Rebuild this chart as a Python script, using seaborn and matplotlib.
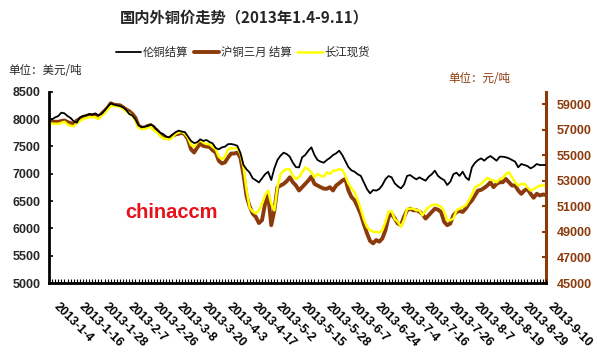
import numpy as np
import pandas as pd
import matplotlib
matplotlib.use("Agg")
import matplotlib.pyplot as plt
import matplotlib.transforms as mtransforms
import seaborn as sns

# ---------------- data ----------------
tick_labels = ["2013-1-4", "2013-1-16", "2013-1-28", "2013-2-7", "2013-2-26", "2013-3-8",
               "2013-3-20", "2013-4-3", "2013-4-17", "2013-5-2", "2013-5-15", "2013-5-28",
               "2013-6-7", "2013-6-24", "2013-7-4", "2013-7-16", "2013-7-26", "2013-8-7",
               "2013-8-19", "2013-8-29", "2013-9-10"]

lme_usd = [8006, 7994, 8031, 8055, 8116, 8104, 8055, 8019, 7958, 7933,
           8031, 8055, 8067, 8092, 8080, 8104, 8067, 8092, 8153, 8226,
           8287, 8263, 8250, 8238, 8214, 8165, 8092, 8067, 7994, 7884,
           7848, 7860, 7872, 7897, 7872, 7799, 7750, 7726, 7677, 7665,
           7714, 7760, 7787, 7770, 7762, 7680, 7600, 7560, 7575, 7628,
           7600, 7616, 7580, 7555, 7470, 7445, 7482, 7494, 7540, 7543,
           7531, 7510, 7380, 7160, 7080, 7020, 6915, 6880, 6840, 6915,
           6990, 7036, 6884, 7098, 7250, 7330, 7384, 7360, 7311, 7200,
           7120, 7116, 7300, 7342, 7420, 7482, 7340, 7250, 7220, 7201,
           7250, 7290, 7340, 7372, 7421, 7342, 7230, 7120, 7060, 7036,
           6990, 6960, 6840, 6720, 6640, 6701, 6690, 6720, 6793, 6900,
           6957, 6933, 6823, 6770, 6731, 6800, 6960, 6975, 6933, 6896,
           6933, 6900, 6872, 6945, 6990, 7055, 6960, 6914, 6884, 6793,
           6853, 6990, 7018, 6960, 7036, 6933, 6884, 7116, 7200, 7250,
           7280, 7238, 7290, 7323, 7280, 7238, 7311, 7311, 7300, 7280,
           7250, 7220, 7116, 7177, 7158, 7140, 7097, 7128, 7177, 7158,
           7158, 7160]

shfe_cny = [57690, 57660, 57640, 57640, 57700, 57744, 57620, 57537, 57433, 57744,
            57850, 58003, 58080, 58158, 58158, 58158, 58003, 58262, 58500, 58728,
            59091, 58987, 58950, 58935, 58780, 58600, 58469, 58262, 57951, 57329,
            57200, 57174, 57329, 57381, 57100, 56967, 56656, 56449, 56400, 56345,
            56552, 56654, 56700, 56784, 56654, 56265, 55489, 55230, 55618, 55929,
            55748, 55700, 55670, 55411, 55230, 54582, 54375, 54455, 54843, 55152,
            55152, 55232, 54841, 53500, 51800, 51000, 50440, 50179, 49700, 49920,
            51217, 51900, 49534, 50697, 52510, 52642, 52771, 52978, 53287, 52900,
            52640, 52253, 52512, 52771, 53030, 53341, 52771, 52642, 52512, 52400,
            52383, 52512, 52253, 52642, 52823, 53030, 53160, 52253, 51735, 51476,
            50958, 50400, 49600, 48900, 48300, 48109, 48368, 48238, 48497, 49145,
            50181, 50440, 50052, 49663, 49534, 50181, 50699, 50829, 50699, 50699,
            50600, 50388, 50052, 50311, 50570, 50829, 50751, 50570, 49793, 49534,
            49663, 50311, 50570, 50647, 50570, 50829, 51200, 51476, 51865, 52253,
            52305, 52460, 52642, 52900, 52512, 52771, 52900, 52900, 53160, 52900,
            52642, 52642, 52253, 51994, 52253, 52383, 51994, 51683, 51994, 51865,
            51942, 51900]

cj_spot_cny = [57530, 57500, 57480, 57480, 57560, 57640, 57430, 57330, 57280, 57540,
               57700, 57850, 57930, 58000, 58000, 58000, 57850, 58100, 58300, 58570,
               58890, 58880, 58860, 58830, 58680, 58450, 58300, 58100, 57740, 57170,
               57060, 57080, 57170, 57230, 56950, 56810, 56520, 56340, 56300, 56240,
               56450, 56700, 56800, 56861, 56706, 56395, 55825, 55670, 56007, 56188,
               56007, 55900, 55877, 55670, 55489, 54893, 54712, 54893, 55489, 55566,
               55566, 55600, 55152, 54100, 52300, 50900, 50600, 50450, 50700, 51200,
               51900, 52251, 51215, 50697, 52510, 53546, 53805, 53934, 53900, 53417,
               53158, 53289, 53678, 54066, 53900, 53678, 53289, 53548, 53400, 53341,
               53678, 53548, 53807, 53807, 53937, 53859, 53400, 52800, 52400, 52100,
               51500, 50800, 50000, 49400, 49145, 49016, 49016, 48938, 49145, 49800,
               50570, 50647, 50000, 49793, 49404, 49922, 50829, 50829, 50829, 50699,
               50699, 50311, 50699, 50958, 51088, 51165, 51088, 51010, 50600, 49922,
               49922, 50052, 50699, 50829, 50958, 51088, 51476, 51900, 52512, 52642,
               52771, 53030, 53237, 53100, 53030, 52900, 53160, 53237, 53548, 53678,
               53289, 52900, 52642, 52771, 52771, 52500, 52253, 52350, 52512, 52642,
               52642, 52650]

series_names = ["伦铜结算", "沪铜三月 结算", "长江现货"]

# ---------------- style ----------------
sns.set_theme(style="white")
plt.rcParams["font.family"] = ["Liberation Sans", "Noto Sans CJK SC", "DejaVu Sans"]
CJK = ["Noto Sans CJK SC", "DejaVu Sans"]
BROWN = "#8B3A0B"
YELLOW = "#FFFF00"

n = len(lme_usd)
df = pd.DataFrame({"idx": np.arange(n), "lme": lme_usd, "shfe": shfe_cny, "cj": cj_spot_cny})

fig = plt.figure(figsize=(6.12, 3.55), dpi=100)
W, H = 612, 355
left, right, top, bottom = 49, 546, 91.7, 283
ax = fig.add_axes([left / W, 1 - bottom / H, (right - left) / W, (bottom - top) / H])
ax2 = ax.twinx()

sns.lineplot(data=df, x="idx", y="shfe", ax=ax2, color=BROWN, lw=2.8, label=series_names[1], legend=False)
sns.lineplot(data=df, x="idx", y="cj", ax=ax2, color=YELLOW, lw=1.8, label=series_names[2], legend=False)
sns.lineplot(data=df, x="idx", y="lme", ax=ax, color="black", lw=1.3, label=series_names[0], legend=False)
ax.set_zorder(ax2.get_zorder() + 1)
ax.patch.set_visible(False)

ax.set_xlim(0, n - 1)
ax.set_ylim(5000, 8500)
ax2.set_ylim(45000, 60000)
ax.set_yticks(np.arange(5000, 8501, 500))
ax2.set_yticks(np.arange(45000, 59001, 2000))
ax.set_xlabel("")
ax.set_ylabel("")
ax2.set_ylabel("")

major = np.arange(0, n, 8)
ax.set_xticks(major)
ax.set_xticklabels([])
ax.set_xticks(np.arange(n), minor=True)
label_tf = ax.get_xaxis_transform() + mtransforms.ScaledTranslation(11 / 100, -18 / 100, fig.dpi_scale_trans)
for xi, lab in zip(major, tick_labels):
    ax.text(xi, 0, lab, transform=label_tf, rotation=-45, ha="left", va="top",
            rotation_mode="anchor", fontsize=9, fontweight="bold", color="black",
            family=["Liberation Sans"], clip_on=False)

ax.tick_params(axis="x", which="both", direction="in", length=3, width=0.8, color="black",
               bottom=True, top=False)
ax.tick_params(axis="y", direction="in", length=3, width=1.2, color="black", labelsize=9, pad=6,
               left=True)
for t in ax.get_yticklabels():
    t.set_fontweight("bold")
ax2.tick_params(axis="y", direction="in", length=3, width=1.5, color=BROWN, labelcolor=BROWN,
                labelsize=9, pad=8, right=True)
for t in ax2.get_yticklabels():
    t.set_fontweight("bold")

for a in (ax, ax2):
    a.spines["top"].set_visible(False)
    a.grid(False)
ax.spines["right"].set_visible(False)
ax.spines["left"].set_color("black")
ax.spines["left"].set_linewidth(2)
ax.spines["bottom"].set_color("black")
ax.spines["bottom"].set_linewidth(2)
ax2.spines["left"].set_visible(False)
ax2.spines["bottom"].set_visible(False)
ax2.spines["right"].set_color(BROWN)
ax2.spines["right"].set_linewidth(2.2)

# texts
fig.text(244 / W, 1 - 17 / H, "国内外铜价走势（2013年1.4-9.11）", ha="center", va="center",
         fontsize=11, fontweight="bold", family=CJK)
fig.text(8 / W, 1 - 70 / H, "单位：美元/吨", ha="left", va="center", fontsize=8.3, family=CJK)
fig.text(510 / W, 1 - 79 / H, "单位：元/吨", ha="right", va="center", fontsize=8.3, color=BROWN, family=CJK)
fig.text(171 / W, 1 - 213 / H, "chinaccm", ha="center", va="center", fontsize=14.5,
         fontweight="bold", color="#E8101A", family=["Liberation Sans"])

h1, l1 = ax.get_legend_handles_labels()
h2, l2 = ax2.get_legend_handles_labels()
leg = fig.legend(h1 + h2, l1 + l2, loc="center", bbox_to_anchor=(243 / W, 1 - 52 / H), ncol=3,
                 frameon=False, prop={"family": CJK, "size": 8.2}, handlelength=2.2,
                 handletextpad=0.15, columnspacing=0.5)

fig.savefig("out.png", dpi=100)
